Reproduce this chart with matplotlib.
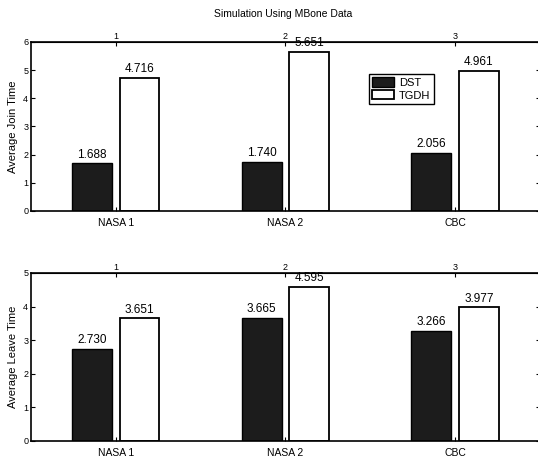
import numpy as np
import matplotlib.pyplot as plt

plt.rcParams['font.family'] = ['Liberation Sans', 'DejaVu Sans']

categorias = ['NASA 1', 'NASA 2', 'CBC']
top_ticks = ['1', '2', '3']
join_dst = [1.688, 1.740, 2.056]
join_tgdh = [4.716, 5.651, 4.961]
leave_dst = [2.730, 3.665, 3.266]
leave_tgdh = [3.651, 4.595, 3.977]

fig = plt.figure(figsize=(5.38, 4.62), dpi=100)
ax1 = fig.add_axes([0.0576, 0.5433, 0.946, 0.3658])
ax2 = fig.add_axes([0.0576, 0.0455, 0.946, 0.3636])

x = np.arange(1, len(categorias) + 1)
w = 0.235
off = 0.14

def panel(ax, dst, tgdh, ymax, ylabel):
	b1 = ax.bar(x - off, dst, w, color='#1c1c1c', edgecolor='black', linewidth=1.0, label='DST')
	b2 = ax.bar(x + off, tgdh, w, color='white', edgecolor='black', linewidth=1.3, label='TGDH')
	for bars, vals in ((b1, dst), (b2, tgdh)):
		for r, v in zip(bars, vals):
			ax.annotate('%.3f' % v, (r.get_x() + r.get_width() / 2, v),
						xytext=(0, 2), textcoords='offset points',
						ha='center', va='bottom', fontsize=8.5)
	ax.set_xlim(0.5, 3.5)
	ax.set_ylim(0, ymax)
	ax.set_yticks(range(0, ymax + 1))
	ax.set_xticks(x)
	ax.set_xticklabels(categorias, fontsize=7.5)
	ax.set_ylabel(ylabel, fontsize=8, labelpad=4)
	ax.tick_params(axis='y', direction='in', length=3, labelsize=6.5, right=True, pad=2)
	ax.tick_params(axis='x', direction='in', length=3, pad=5)
	for s in ax.spines.values():
		s.set_linewidth(1.2)
	sec = ax.secondary_xaxis('top')
	sec.set_xticks(x)
	sec.set_xticklabels(top_ticks, fontsize=6.5)
	sec.tick_params(direction='in', length=3, pad=1)
	return b1, b2

b1, b2 = panel(ax1, join_dst, join_tgdh, 6, 'Average Join Time')
panel(ax2, leave_dst, leave_tgdh, 5, 'Average Leave Time')

ax1.legend(loc='upper left', bbox_to_anchor=(0.664, 0.81), fontsize=8,
		   frameon=True, fancybox=False, edgecolor='black', framealpha=1,
		   handlelength=2.0, handleheight=0.9, borderpad=0.3, labelspacing=0.2,
		   handletextpad=0.4, borderaxespad=0)

fig.text(0.527, 0.97, 'Simulation Using MBone Data', ha='center', va='center', fontsize=7.5)

fig.savefig('out.png', dpi=100)
